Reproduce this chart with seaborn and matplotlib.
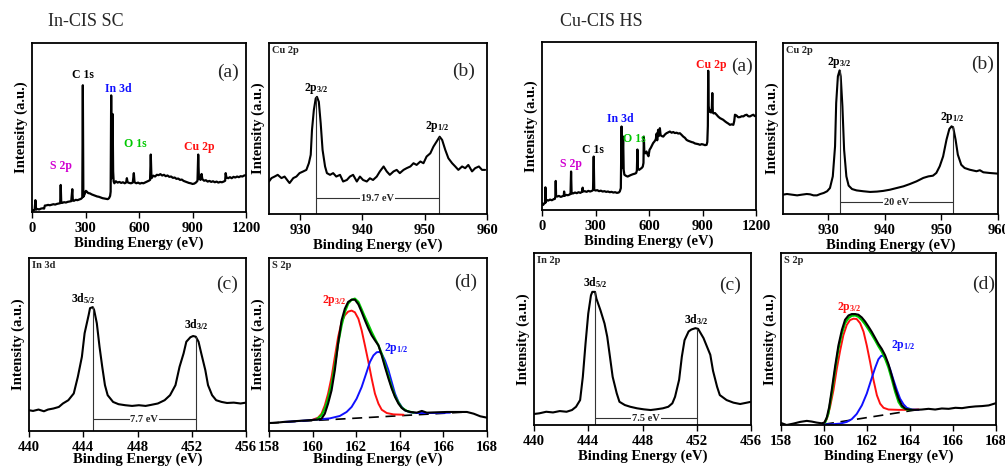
import numpy as np
import pandas as pd
import matplotlib
matplotlib.use("Agg")
import matplotlib.pyplot as plt
import seaborn as sns

# ---------------- DATA ----------------
# In-CIS SC survey (a)
sc_survey_e = [0, 5, 10, 15, 19, 23, 30, 40, 50, 60, 68, 72, 80, 90, 100, 110, 120, 130, 140, 150, 158, 161, 164,
               170, 180, 190, 200, 210, 220, 226, 229, 235, 245, 255, 265, 275, 282, 285, 288, 295, 302, 308, 315,
               325, 335, 345, 355, 365, 375, 385, 395, 405, 415, 425, 432, 438, 441, 444, 447, 450, 452, 455, 458,
               462, 470, 480, 490, 500, 510, 520, 528, 532, 536, 545, 555, 565, 571, 575, 585, 595, 605, 615, 625,
               635, 645, 655, 662, 666, 670, 680, 690, 700, 710, 720, 730, 740, 750, 760, 770, 780, 790, 800, 810,
               820, 830, 840, 850, 860, 870, 880, 890, 900, 910, 920, 928, 932, 936, 945, 951, 955, 965, 975, 985,
               995, 1005, 1015, 1025, 1035, 1045, 1055, 1065, 1075, 1083, 1086, 1090, 1100, 1110, 1120, 1130, 1140,
               1150, 1160, 1170, 1180, 1190, 1200]
sc_survey_i = [0.5, 1.2, 1.0, 1.5, 7.0, 1.4, 1.8, 1.5, 2.0, 2.2, 2.0, 3.8, 3.9, 4.2, 4.0, 4.3, 4.6, 4.4, 4.8, 5.0, 5.2,
               16.0, 5.5, 5.4, 5.8, 5.6, 6.0, 6.2, 6.4, 13.5, 6.8, 6.6, 7.2, 7.0, 7.4, 7.8, 8.5, 75.0, 9.0, 10.5,
               12.5, 12.0, 11.2, 11.0, 10.4, 10.0, 9.6, 9.2, 9.0, 8.6, 8.2, 8.0, 7.8, 7.6, 8.2, 9.5, 12.0, 69.0,
               20.0, 25.0, 58.0, 24.0, 18.0, 17.0, 18.2, 17.4, 17.8, 17.2, 17.6, 17.0, 17.5, 20.0, 17.6, 17.2,
               17.0, 17.4, 23.0, 17.6, 17.0, 17.4, 16.8, 17.2, 17.0, 17.5, 18.0, 18.5, 19.0, 34.0, 20.0, 21.5,
               21.0, 22.0, 21.8, 22.4, 21.6, 22.0, 21.2, 21.6, 20.8, 21.0, 20.2, 20.4, 19.6, 19.8, 19.0, 19.2,
               18.4, 18.0, 17.6, 17.2, 17.0, 16.6, 16.8, 17.5, 18.5, 34.0, 20.0, 19.0, 22.5, 19.5, 18.5, 18.8,
               18.0, 18.4, 17.8, 18.2, 17.6, 18.0, 17.4, 17.8, 17.6, 18.0, 18.5, 23.0, 20.5, 20.0, 20.6, 20.0,
               20.8, 20.4, 21.0, 20.6, 21.2, 21.0, 21.6, 21.8]

# Cu-CIS HS survey (a)
hs_survey_e = [0, 2, 6, 12, 17, 19, 21, 26, 35, 45, 55, 65, 72, 75, 77, 79, 85, 95, 105, 115, 122, 124, 127, 135,
               145, 155, 160, 163, 166, 175, 185, 195, 205, 215, 224, 228, 231, 240, 250, 260, 270, 280, 286, 290,
               293, 300, 310, 320, 330, 340, 350, 360, 370, 380, 390, 400, 410, 420, 430, 436, 442, 446, 449, 452,
               455, 458, 462, 470, 480, 490, 500, 510, 520, 528, 532, 535, 538, 545, 552, 558, 565, 569, 571, 574,
               580, 586, 592, 597, 603, 610, 617, 623, 632, 638, 643, 646, 651, 655, 661, 665, 672, 680, 690, 698,
               708, 717, 727, 736, 745, 755, 764, 773, 782, 792, 801, 811, 820, 830, 840, 848, 858, 868, 876, 886,
               895, 904, 914, 923, 927, 930, 932, 934, 938, 942, 948, 952, 955, 958, 962, 970, 979, 988, 998, 1007,
               1016, 1026, 1035, 1044, 1054, 1063, 1073, 1078, 1082, 1091, 1100, 1110, 1120, 1129, 1138, 1148,
               1157, 1166, 1176, 1185, 1193, 1200]
hs_survey_i = [3.5, 4.0, 3.0, 3.8, 4.2, 13.5, 4.5, 6.0, 5.6, 6.2, 5.8, 6.4, 6.6, 8.0, 17.3, 8.5, 8.0, 8.4, 7.8, 8.2,
               8.6, 11.0, 8.4, 9.0, 8.8, 9.2, 9.6, 22.9, 9.8, 9.9, 10.4, 10.0, 10.6, 10.2, 10.8, 13.3, 11.0, 11.2,
               10.8, 11.4, 11.0, 11.4, 11.8, 31.8, 12.0, 11.6, 11.8, 11.2, 11.5, 11.0, 11.2, 10.8, 11.0, 10.6, 10.8,
               10.4, 10.6, 10.2, 10.4, 11.0, 13.0, 49.7, 25.0, 30.0, 43.7, 24.0, 21.0, 20.4, 19.9, 20.4, 20.9,
               21.3, 21.6, 22.0, 23.5, 36.0, 24.5, 23.9, 24.5, 24.9, 25.8, 28.0, 43.7, 34.0, 33.8, 34.8, 33.0, 32.0,
               35.8, 37.0, 38.5, 39.8, 41.0, 42.1, 45.5, 41.5, 47.7, 44.0, 48.7, 44.5, 44.0, 43.7, 45.0, 45.7, 46.2,
               46.7, 46.0, 46.4, 45.8, 46.0, 45.5, 45.7, 44.8, 43.7, 43.0, 41.7, 41.2, 40.8, 40.4, 40.2, 39.6,
               39.4, 39.2, 38.8, 39.2, 39.0, 38.6, 38.8, 40.5, 50.0, 82.9, 62.0, 58.5, 59.6, 58.0, 60.0, 69.6,
               58.0, 57.5, 57.7, 56.7, 55.6, 54.7, 54.2, 53.7, 52.8, 52.1, 51.5, 50.7, 51.0, 50.7, 53.0, 56.7,
               56.2, 55.2, 55.3, 55.8, 55.7, 56.4, 56.7, 55.8, 55.7, 56.3, 56.7, 55.9, 56.2]

# In-CIS SC Cu 2p (b)
sc_cu_e = [925.0, 925.4, 925.9, 926.4, 927.0, 927.5, 928.1, 928.3, 928.9, 929.4, 929.9, 930.5, 931.0, 931.4, 931.7,
           931.9, 932.2, 932.5, 932.7, 933.0, 933.3, 933.6, 934.0, 934.3, 934.8, 935.3, 935.8, 936.4, 936.9,
           937.5, 938.0, 938.5, 939.1, 939.6, 940.1, 940.7, 941.2, 941.7, 942.3, 942.8, 943.4, 943.9, 944.4,
           945.0, 945.5, 946.0, 946.6, 947.1, 947.7, 948.2, 948.7, 949.3, 949.8, 950.3, 950.9, 951.4, 951.9,
           952.4, 952.8, 953.3, 953.8, 954.4, 954.9, 955.4, 956.0, 956.5, 957.0, 957.6, 958.1, 958.7, 959.2, 959.7]
sc_cu_i = [19.0, 21.0, 21.9, 22.9, 21.0, 21.9, 19.0, 18.1, 21.0, 21.9, 23.9, 24.9, 25.8, 29.7, 34.6, 49.1, 60.8,
           67.6, 68.5, 65.6, 53.0, 37.5, 27.8, 23.9, 22.9, 23.9, 21.9, 22.9, 19.0, 19.9, 21.9, 22.9, 19.0, 21.9,
           19.9, 19.0, 20.9, 19.9, 21.9, 24.9, 27.8, 24.9, 22.9, 24.9, 25.8, 23.9, 25.8, 26.8, 27.8, 29.7, 28.7,
           30.7, 29.7, 33.6, 35.5, 39.4, 42.3, 45.2, 43.3, 37.5, 32.6, 29.7, 27.8, 25.8, 27.8, 26.8, 28.7, 24.9,
           26.8, 27.8, 25.8, 25.8]
sc_cu_peaks = [932.6, 952.3]
sc_cu_peak_i = [68.5, 45.0]

# Cu-CIS HS Cu 2p (b)
hs_cu_e = [922.0, 922.7, 923.6, 924.5, 925.3, 926.2, 926.8, 927.4, 928.0, 928.6, 929.2, 929.8, 930.3, 930.8, 931.2,
           931.4, 931.7, 932.0, 932.2, 932.5, 932.8, 933.2, 933.6, 934.2, 935.0, 936.2, 937.4, 938.6, 939.7,
           940.9, 942.1, 943.3, 944.4, 945.6, 946.8, 947.7, 948.5, 949.1, 949.7, 950.3, 950.9, 951.4, 951.8,
           952.1, 952.5, 952.9, 953.5, 954.1, 955.0, 956.2, 956.8, 957.4, 958.5, 960.0]
hs_cu_i = [11.3, 11.7, 11.3, 10.9, 11.3, 11.7, 11.5, 10.9, 10.9, 11.7, 12.3, 13.3, 15.2, 22.0, 39.6, 64.9, 80.5,
           84.0, 80.5, 63.0, 37.6, 22.0, 16.6, 14.6, 13.8, 13.3, 12.9, 13.1, 13.5, 14.2, 15.2, 16.2, 17.5, 19.1,
           21.1, 22.0, 22.4, 24.0, 27.9, 33.7, 43.5, 49.7, 51.3, 50.3, 43.5, 34.7, 28.8, 26.9, 25.9, 25.0, 25.6,
           24.4, 24.0, 23.6]
hs_cu_peaks = [932.0, 952.0]
hs_cu_peak_i = [84.0, 51.3]

# In-CIS SC In 3d (c)
sc_in_e = [440.0, 440.3, 440.7, 441.1, 441.4, 441.8, 442.2, 442.5, 442.9, 443.3, 443.6, 443.9, 444.1, 444.4, 444.5,
           444.7, 444.8, 445.0, 445.2, 445.4, 445.6, 445.8, 446.2, 446.6, 447.1, 447.6, 448.1, 448.6, 449.0,
           449.5, 450.0, 450.4, 450.8, 451.1, 451.4, 451.6, 451.9, 452.1, 452.3, 452.5, 452.7, 453.0, 453.2,
           453.5, 453.8, 454.2, 454.6, 455.1, 455.6, 456.0]
sc_in_i = [12.0, 11.6, 12.4, 11.4, 12.4, 13.0, 13.9, 15.9, 17.8, 21.7, 31.3, 42.9, 56.5, 67.1, 71.0, 71.6, 70.0,
           62.3, 48.7, 37.1, 26.5, 20.7, 16.8, 15.5, 14.9, 14.5, 14.9, 14.5, 15.1, 15.9, 17.8, 20.7, 26.5, 37.1,
           44.9, 51.6, 54.2, 54.9, 54.5, 51.6, 44.9, 35.2, 26.5, 20.7, 17.8, 16.8, 16.2, 16.4, 15.9, 16.4]
sc_in_peaks = [444.7, 452.3]
sc_in_peak_i = [71.6, 54.5]

# Cu-CIS HS In 3d (c)
hs_in_e = [440.0, 440.4, 440.9, 441.4, 441.9, 442.4, 442.8, 443.1, 443.4, 443.6, 443.8, 444.0, 444.2, 444.3, 444.5,
           444.6, 444.9, 445.2, 445.4, 445.6, 445.8, 446.1, 446.3, 446.7, 447.1, 447.6, 448.1, 448.6, 449.0,
           449.5, 449.9, 450.2, 450.4, 450.7, 450.9, 451.1, 451.4, 451.6, 451.9, 452.1, 452.3, 452.5, 452.7,
           453.0, 453.2, 453.5, 453.7, 454.2, 454.7, 455.2, 455.7, 456.0]
hs_in_i = [6.4, 6.8, 7.7, 7.3, 8.1, 7.7, 8.7, 10.6, 14.5, 28.0, 47.4, 64.8, 75.4, 77.4, 77.4, 73.5, 66.7, 59.0,
           51.3, 39.7, 28.0, 18.4, 13.5, 11.6, 10.6, 9.7, 9.1, 8.7, 9.1, 9.7, 10.6, 12.6, 16.4, 26.3, 39.7, 49.3,
           54.4, 55.5, 56.3, 55.9, 53.2, 50.5, 46.6, 40.8, 31.5, 22.2, 17.4, 14.5, 13.0, 12.2, 13.0, 13.5]
hs_in_peaks = [444.5, 452.0]
hs_in_peak_i = [77.4, 56.0]

# In-CIS SC S 2p (d)
sc_s_e = [158.0, 158.34, 158.64, 159.1, 159.56, 160.02, 160.25, 160.41, 160.56, 160.71, 160.87, 161.02, 161.17,
          161.33, 161.48, 161.63, 161.79, 161.94, 162.1, 162.25, 162.4, 162.56, 162.71, 162.86, 163.02, 163.17,
          163.32, 163.48, 163.63, 163.78, 163.94, 164.09, 164.24, 164.47, 164.78, 165.01, 165.24, 165.7,
          166.16, 166.62, 167.08, 167.39, 167.69, 168.0]
sc_s_i = [4.6, 4.8, 5.2, 5.6, 6.0, 6.4, 6.6, 7.1, 10.0, 15.8, 23.5, 35.1, 50.5, 64.0, 70.7, 74.6, 75.9, 75.9, 73.2,
          68.8, 64.0, 59.2, 55.3, 52.4, 49.5, 43.7, 37.0, 30.3, 24.5, 19.7, 15.8, 13.3, 11.9, 11.0, 10.6, 11.6,
          10.6, 10.8, 11.0, 11.0, 11.0, 10.0, 8.5, 7.7]
sc_s_fit_e = [160.18, 160.41, 160.56, 160.71, 160.87, 161.02, 161.17, 161.33, 161.48, 161.63, 161.79, 161.94,
              162.1, 162.25, 162.4, 162.56, 162.71, 162.86, 163.02, 163.17, 163.32, 163.48, 163.63, 163.78,
              163.94, 164.09, 164.32, 164.63]
sc_s_fit_i = [6.7, 9.1, 12.9, 18.7, 27.0, 38.0, 50.5, 61.0, 68.8, 73.6, 75.9, 76.5, 74.6, 70.3, 65.9, 61.5, 57.2,
              53.4, 49.5, 44.7, 38.3, 31.6, 25.4, 20.2, 16.4, 13.5, 11.6, 10.6]
sc_s32_e = [160.02, 160.25, 160.41, 160.56, 160.71, 160.87, 161.02, 161.17, 161.33, 161.48, 161.63, 161.79,
            161.94, 162.1, 162.25, 162.4, 162.56, 162.71, 162.86, 163.02, 163.17, 163.4, 163.71, 164.17]
sc_s32_i = [6.6, 7.7, 10.0, 14.8, 21.6, 31.2, 42.8, 54.3, 63.0, 66.9, 69.0, 69.6, 68.6, 64.9, 58.2, 49.5, 39.9,
            30.3, 21.6, 15.8, 12.3, 10.4, 9.6, 9.4]
sc_s12_e = [158.64, 159.41, 160.18, 160.79, 161.25, 161.56, 161.79, 162.02, 162.25, 162.48, 162.63, 162.79, 162.94,
            163.06, 163.17, 163.32, 163.48, 163.63, 163.78, 163.94, 164.09, 164.24, 164.47, 164.78, 165.55, 166.31]
sc_s12_i = [5.2, 5.8, 6.6, 7.3, 8.7, 11.0, 13.9, 18.7, 25.4, 34.1, 39.9, 43.7, 45.5, 45.7, 44.7, 40.8, 35.1, 28.3,
            21.6, 16.8, 13.9, 11.9, 10.8, 10.4, 10.4, 10.6]
sc_s_bg_e = [158.0, 167.08]
sc_s_bg_i = [4.6, 11.0]

# Cu-CIS HS S 2p (d)
hs_s_e = [158.0, 158.26, 158.57, 158.89, 159.2, 159.43, 159.66, 159.89, 160.02, 160.13, 160.24, 160.36, 160.52,
          160.67, 160.83, 160.98, 161.14, 161.29, 161.45, 161.6, 161.76, 161.91, 162.07, 162.22, 162.38, 162.53,
          162.69, 162.84, 163.0, 163.16, 163.31, 163.47, 163.62, 163.78, 164.01, 164.24, 164.55, 164.86,
          165.17, 165.48, 165.8, 166.11, 166.42, 166.73, 167.04, 167.35, 167.66, 168.0]
hs_s_i = [1.2, 0.0, 0.8, 1.8, 2.4, 2.0, 1.4, 1.0, 1.4, 4.4, 10.4, 20.3, 34.3, 46.2, 55.2, 61.2, 63.7, 64.5, 64.5,
          64.1, 62.5, 60.2, 57.2, 54.2, 50.6, 47.2, 44.2, 40.6, 35.3, 28.3, 21.3, 15.3, 11.4, 9.4, 8.8, 8.8, 9.0,
          9.4, 9.0, 9.6, 9.4, 10.0, 9.8, 10.4, 10.8, 11.0, 11.4, 12.7]
hs_s_fit_e = [160.05, 160.2, 160.36, 160.52, 160.67, 160.83, 160.98, 161.14, 161.29, 161.45, 161.6, 161.76,
              161.91, 162.07, 162.22, 162.38, 162.53, 162.69, 162.84, 163.0, 163.16, 163.31, 163.47, 163.62,
              163.85, 164.09]
hs_s_fit_i = [1.4, 6.4, 18.3, 32.3, 44.2, 53.2, 59.2, 62.2, 63.5, 63.7, 62.9, 61.0, 58.6, 55.6, 52.6, 49.2, 45.8,
              42.6, 38.6, 33.3, 26.3, 19.3, 13.3, 10.4, 9.0, 8.8]
hs_s32_e = [159.97, 160.13, 160.28, 160.44, 160.59, 160.75, 160.9, 161.06, 161.21, 161.37, 161.52, 161.68, 161.84,
            161.99, 162.15, 162.3, 162.46, 162.61, 162.77, 163.0, 163.47, 163.93, 164.4]
hs_s32_i = [0.8, 3.4, 10.4, 20.3, 32.3, 43.2, 52.2, 58.2, 61.0, 61.8, 61.6, 59.2, 54.2, 46.2, 36.3, 26.3, 17.3,
            12.4, 10.0, 9.0, 8.8, 8.8, 9.0]
hs_s12_e = [159.97, 160.36, 160.75, 161.06, 161.29, 161.52, 161.76, 161.99, 162.22, 162.38, 162.53, 162.66, 162.77,
            162.92, 163.08, 163.23, 163.39, 163.54, 163.7, 163.85, 164.09, 164.4]
hs_s12_i = [0.4, 0.4, 0.8, 1.8, 3.4, 6.4, 11.4, 18.3, 27.3, 33.3, 38.2, 40.2, 40.2, 37.3, 32.3, 26.3, 20.3, 15.3,
            12.0, 10.0, 9.0, 8.8]
hs_s_bg_e = [160.0, 164.3]
hs_s_bg_i = [0.4, 8.8]

survey_ticks = [0, 300, 600, 900, 1200]
cu_ticks = [930, 940, 950, 960]
in_ticks = [440, 444, 448, 452, 456]
s_ticks = [158, 160, 162, 164, 166, 168]

# ---------------- STYLE ----------------
sns.set_theme(style="ticks")
plt.rcParams["font.family"] = ["Liberation Serif", "DejaVu Serif"]
plt.rcParams["font.weight"] = "bold"
plt.rcParams["mathtext.fontset"] = "custom"
plt.rcParams["mathtext.rm"] = "Liberation Serif:bold"
plt.rcParams["mathtext.it"] = "Liberation Serif:bold"
plt.rcParams["mathtext.bf"] = "Liberation Serif:bold"

W, H = 1005, 466
fig = plt.figure(figsize=(W / 100, H / 100), dpi=100)
fig.patch.set_facecolor("white")

BLUE = "#1010ff"
GREEN = "#00c800"
RED = "#ff1010"
MAG = "#d000d0"


def make_ax(l, t, r, b, xlim, ticks):
    ax = fig.add_axes([l / W, 1 - b / H, (r - l) / W, (b - t) / H])
    ax.set_xlim(*xlim)
    ax.set_ylim(0, 100)
    ax.set_xticks(ticks)
    ax.set_yticks([])
    for s in ax.spines.values():
        s.set_visible(True)
        s.set_linewidth(1.3)
        s.set_color("black")
    ax.tick_params(axis="x", direction="out", length=4, width=1.0, labelsize=10.5, pad=3, colors="black")
    for lb in ax.get_xticklabels():
        lb.set_fontweight("bold")
    return ax


def curve(ax, x, y, color="black", lw=1.5, ls="-"):
    sns.lineplot(x=x, y=y, ax=ax, color=color, lw=lw, ls=ls, estimator=None, sort=False, legend=False)


def finish(ax, corner, panel, px, py, xpad=1):
    ax.set_xlabel("Binding Energy (eV)", fontsize=10.5, fontweight="bold", labelpad=xpad, color="black",
                  visible=True)
    ax.set_ylabel("Intensity (a.u.)", fontsize=10.5, fontweight="bold", labelpad=3, color="black",
                  visible=True)
    if corner:
        ax.text(0.012, 0.985, corner, transform=ax.transAxes, ha="left", va="top", fontsize=7.5,
                fontweight="bold")
    ax.text(px, py, panel, transform=ax.transAxes, ha="center", va="center", fontsize=14,
            fontweight="normal")


def bracket(ax, peaks, heights, yb, label):
    for p, h in zip(peaks, heights):
        ax.plot([p, p], [0, h], color="#333333", lw=0.8)
    ax.plot(peaks, [yb, yb], color="#333333", lw=0.8)
    ax.text(sum(peaks) / 2, yb, label, ha="center", va="center", fontsize=7.5, fontweight="bold",
            bbox=dict(facecolor="white", edgecolor="none", pad=0.6))


def lab(ax, x, y, s, color="black", fs=8.5):
    ax.text(x, y, s, ha="center", va="center", fontsize=fs, fontweight="bold", color=color)


# ---------------- In-CIS SC ----------------
ax = make_ax(32, 43, 246, 212, (0, 1200), survey_ticks)
curve(ax, sc_survey_e, sc_survey_i, lw=1.6)
lab(ax, 283, 81, "C 1s")
lab(ax, 483, 72.6, "In 3d", BLUE)
lab(ax, 161, 27.2, "S 2p", MAG)
lab(ax, 577, 40, "O 1s", GREEN)
lab(ax, 936, 38.5, "Cu 2p", RED)
finish(ax, None, "(a)", 0.914, 0.828)

ax = make_ax(269, 43, 487, 214, (925, 960), cu_ticks)
curve(ax, sc_cu_e, sc_cu_i)
bracket(ax, sc_cu_peaks, sc_cu_peak_i, 9.3, "19.7 eV")
lab(ax, 932.6, 73.5, "2p$_{3/2}$")
lab(ax, 952.0, 51.0, "2p$_{1/2}$")
finish(ax, "Cu 2p", "(b)", 0.893, 0.837)

ax = make_ax(29, 258, 246, 431, (440, 456), in_ticks)
curve(ax, sc_in_e, sc_in_i)
bracket(ax, sc_in_peaks, sc_in_peak_i, 6.8, "7.7 eV")
lab(ax, 444.0, 76.5, "3d$_{5/2}$")
lab(ax, 452.36, 61.5, "3d$_{3/2}$")
finish(ax, "In 3d", "(c)", 0.911, 0.845, xpad=-1)

ax = make_ax(269, 258, 487, 431, (158, 168), s_ticks)
curve(ax, sc_s_bg_e, sc_s_bg_i, lw=1.2, ls=(0, (6, 4)))
curve(ax, sc_s32_e, sc_s32_i, color=RED, lw=1.4)
curve(ax, sc_s12_e, sc_s12_i, color=BLUE, lw=1.4)
curve(ax, sc_s_fit_e, sc_s_fit_i, color=GREEN, lw=1.6)
curve(ax, sc_s_e, sc_s_i, lw=1.5)
lab(ax, 161.0, 75.5, "2p$_{3/2}$", RED)
lab(ax, 163.85, 47.6, "2p$_{1/2}$", BLUE)
finish(ax, "S 2p", "(d)", 0.90, 0.861, xpad=-1)

# ---------------- Cu-CIS HS ----------------
ax = make_ax(542, 42, 756, 210, (0, 1200), survey_ticks)
curve(ax, hs_survey_e, hs_survey_i, lw=1.6)
lab(ax, 947, 86.5, "Cu 2p", RED)
lab(ax, 440, 54.1, "In 3d", BLUE)
lab(ax, 515, 42.5, "O 1s", GREEN)
lab(ax, 286, 35.8, "C 1s")
lab(ax, 161, 27.2, "S 2p", MAG)
finish(ax, None, "(a)", 0.933, 0.855)

ax = make_ax(783, 43, 998, 214, (922, 960), cu_ticks)
curve(ax, hs_cu_e, hs_cu_i)
bracket(ax, hs_cu_peaks, hs_cu_peak_i, 6.8, "20 eV")
lab(ax, 932.0, 88.5, "2p$_{3/2}$")
lab(ax, 952.0, 56.5, "2p$_{1/2}$")
finish(ax, "Cu 2p", "(b)", 0.93, 0.873)

ax = make_ax(534, 253, 751, 425, (440, 456), in_ticks)
curve(ax, hs_in_e, hs_in_i)
bracket(ax, hs_in_peaks, hs_in_peak_i, 3.9, "7.5 eV")
lab(ax, 444.5, 83.0, "3d$_{5/2}$")
lab(ax, 452.0, 61.5, "3d$_{3/2}$")
finish(ax, "In 2p", "(c)", 0.904, 0.812)

ax = make_ax(781, 253, 996, 425, (158, 168), s_ticks)
curve(ax, hs_s_bg_e, hs_s_bg_i, lw=1.2, ls=(0, (6, 4)))
curve(ax, hs_s32_e, hs_s32_i, color=RED, lw=1.4)
curve(ax, hs_s12_e, hs_s12_i, color=BLUE, lw=1.4)
curve(ax, hs_s_fit_e, hs_s_fit_i, color=GREEN, lw=1.6)
curve(ax, hs_s_e, hs_s_i, lw=1.5)
lab(ax, 161.2, 68.1, "2p$_{3/2}$", RED)
lab(ax, 163.7, 46.2, "2p$_{1/2}$", BLUE)
finish(ax, "S 2p", "(d)", 0.943, 0.82)

fig.text(48 / W, 1 - 22 / H, "In-CIS SC", ha="left", va="center", fontsize=13, fontweight="normal")
fig.text(560 / W, 1 - 21 / H, "Cu-CIS HS", ha="left", va="center", fontsize=13, fontweight="normal")

fig.savefig("out.png", dpi=100, facecolor="white")
